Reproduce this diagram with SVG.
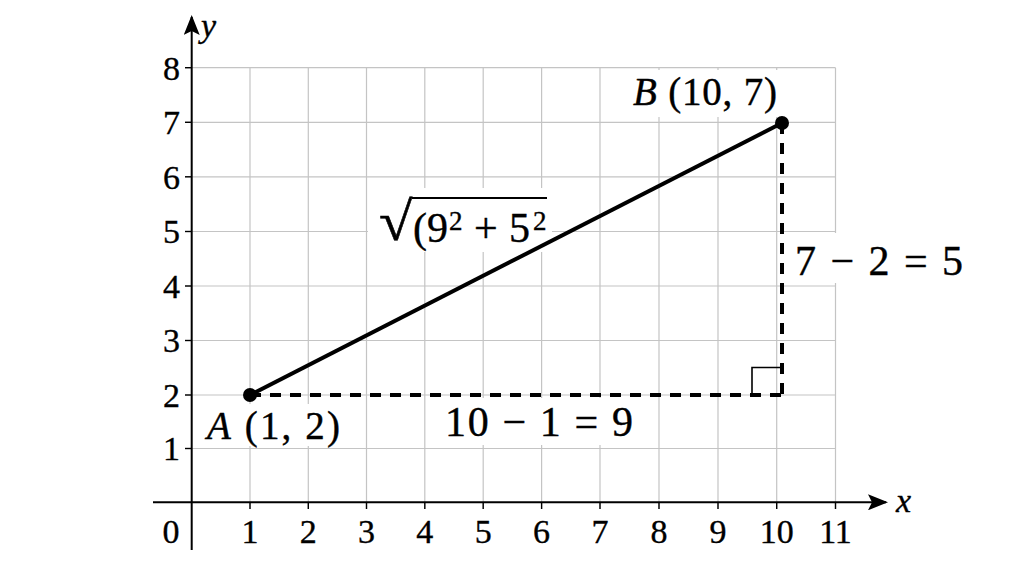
<svg xmlns="http://www.w3.org/2000/svg" width="1024" height="572" viewBox="0 0 1024 572">
<style>
.grid line{stroke:#c4c4c4;stroke-width:1.2}
.axis{stroke:#000;stroke-width:2;fill:none}
.tick{stroke:#000;stroke-width:1.4}
.num{font-family:"Liberation Serif","DejaVu Serif",serif;font-size:34px;fill:#000;stroke:#000;stroke-width:0.35}
.lab{font-family:"Liberation Serif","DejaVu Serif",serif;font-size:42px;fill:#000;stroke:#000;stroke-width:0.4}
.pt{font-family:"Liberation Serif","DejaVu Serif",serif;font-size:39px;fill:#000;stroke:#000;stroke-width:0.4}
.it{font-style:italic}
.bg{fill:#fff}
.seg{stroke:#000;stroke-width:4;fill:none}
.dash{stroke:#000;stroke-width:4;stroke-dasharray:11 9;fill:none}
</style>
<defs>
<marker id="arr" viewBox="0 0 20 16" refX="18" refY="8" markerWidth="20" markerHeight="16" markerUnits="userSpaceOnUse" orient="auto">
<path d="M0,0 L20,8 L0,16 L4,8 Z" fill="#000"/>
</marker>
</defs>
<rect width="1024" height="572" fill="#fff"/>
<g id="grid" class="grid">
<line x1="250" y1="67.7" x2="250" y2="509"/>
<line x1="308.3" y1="67.7" x2="308.3" y2="509"/>
<line x1="366.5" y1="67.7" x2="366.5" y2="509"/>
<line x1="424.8" y1="67.7" x2="424.8" y2="509"/>
<line x1="483.2" y1="67.7" x2="483.2" y2="509"/>
<line x1="541.6" y1="67.7" x2="541.6" y2="509"/>
<line x1="600" y1="67.7" x2="600" y2="509"/>
<line x1="659" y1="67.7" x2="659" y2="509"/>
<line x1="718" y1="67.7" x2="718" y2="509"/>
<line x1="776.7" y1="67.7" x2="776.7" y2="509"/>
<line x1="835.5" y1="67.7" x2="835.5" y2="509"/>
<line x1="185" y1="67.7" x2="835.5" y2="67.7"/>
<line x1="185" y1="122.3" x2="835.5" y2="122.3"/>
<line x1="185" y1="176.8" x2="835.5" y2="176.8"/>
<line x1="185" y1="231.5" x2="835.5" y2="231.5"/>
<line x1="185" y1="286" x2="835.5" y2="286"/>
<line x1="185" y1="340.5" x2="835.5" y2="340.5"/>
<line x1="185" y1="395" x2="835.5" y2="395"/>
<line x1="185" y1="448.5" x2="835.5" y2="448.5"/>
</g>
<g id="label-backgrounds">
<rect class="bg" x="628" y="70" width="152" height="47"/>
<rect class="bg" x="368" y="188" width="184" height="64"/>
<rect class="bg" x="785" y="233" width="182" height="50"/>
<rect class="bg" x="204" y="404" width="139" height="42"/>
<rect class="bg" x="438" y="398" width="204" height="47"/>
</g>
<g id="axes">
<path class="axis" d="M153,502.3 H886" marker-end="url(#arr)"/>
<path class="axis" d="M191.7,550 V17" marker-end="url(#arr)"/>
<g class="tick">
<line x1="250" y1="502.3" x2="250" y2="509"/>
<line x1="308.3" y1="502.3" x2="308.3" y2="509"/>
<line x1="366.5" y1="502.3" x2="366.5" y2="509"/>
<line x1="424.8" y1="502.3" x2="424.8" y2="509"/>
<line x1="483.2" y1="502.3" x2="483.2" y2="509"/>
<line x1="541.6" y1="502.3" x2="541.6" y2="509"/>
<line x1="600" y1="502.3" x2="600" y2="509"/>
<line x1="659" y1="502.3" x2="659" y2="509"/>
<line x1="718" y1="502.3" x2="718" y2="509"/>
<line x1="776.7" y1="502.3" x2="776.7" y2="509"/>
<line x1="835.5" y1="502.3" x2="835.5" y2="509"/>
<line x1="185" y1="67.7" x2="191.7" y2="67.7"/>
<line x1="185" y1="122.3" x2="191.7" y2="122.3"/>
<line x1="185" y1="176.8" x2="191.7" y2="176.8"/>
<line x1="185" y1="231.5" x2="191.7" y2="231.5"/>
<line x1="185" y1="286" x2="191.7" y2="286"/>
<line x1="185" y1="340.5" x2="191.7" y2="340.5"/>
<line x1="185" y1="395" x2="191.7" y2="395"/>
<line x1="185" y1="448.5" x2="191.7" y2="448.5"/>
</g>
<g class="num" text-anchor="middle">
<text x="171" y="543">0</text>
<text x="250" y="543">1</text>
<text x="308.3" y="543">2</text>
<text x="366.5" y="543">3</text>
<text x="424.8" y="543">4</text>
<text x="483.2" y="543">5</text>
<text x="541.6" y="543">6</text>
<text x="600" y="543">7</text>
<text x="659" y="543">8</text>
<text x="718" y="543">9</text>
<text x="776.7" y="543">10</text>
<text x="835.5" y="543">11</text>
</g>
<g class="num" text-anchor="end">
<text x="180" y="79.5">8</text>
<text x="180" y="134">7</text>
<text x="180" y="188.5">6</text>
<text x="180" y="243.2">5</text>
<text x="180" y="297.7">4</text>
<text x="180" y="352.2">3</text>
<text x="180" y="406.7">2</text>
<text x="180" y="460.2">1</text>
</g>
<text class="num it" x="201" y="37" font-size="37">y</text>
<text class="num it" x="896" y="512" font-size="37">x</text>
</g>
<g id="connectors">
<line class="seg" x1="250" y1="395" x2="782" y2="123"/>
<line class="dash" x1="250" y1="395" x2="782" y2="395"/>
<line class="dash" x1="782" y1="123" x2="782" y2="395"/>
<polyline points="752,395 752,367.5 782,367.5" fill="none" stroke="#000" stroke-width="1.6"/>
</g>
<g id="node-A">
<circle cx="250" cy="395" r="7" fill="#000"/>
<text class="pt" x="207" y="439" textLength="133" lengthAdjust="spacing"><tspan class="it">A</tspan> (1, 2)</text>
</g>
<g id="node-B">
<circle cx="782" cy="123" r="7" fill="#000"/>
<text class="pt" x="633" y="105" textLength="144" lengthAdjust="spacing"><tspan class="it">B</tspan> (10, 7)</text>
</g>
<g id="label-hyp">
<text class="lab" transform="translate(379,240) scale(1.45,1.3)" x="0" y="0" font-size="80" stroke-width="0.2">√</text>
<line x1="412" y1="198" x2="547" y2="198" stroke="#000" stroke-width="1.8"/>
<text class="lab" y="242"><tspan x="413">(</tspan><tspan x="427">9</tspan><tspan x="449" y="230" font-size="27">2</tspan><tspan x="474" y="242">+</tspan><tspan x="509">5</tspan><tspan x="533" y="230" font-size="27">2</tspan></text>
</g>
<g id="label-dy">
<text class="lab" x="795" y="275" textLength="168" lengthAdjust="spacing">7 − 2 = 5</text>
</g>
<g id="label-dx">
<text class="lab" x="445" y="436" textLength="188" lengthAdjust="spacing">10 − 1 = 9</text>
</g>
</svg>
